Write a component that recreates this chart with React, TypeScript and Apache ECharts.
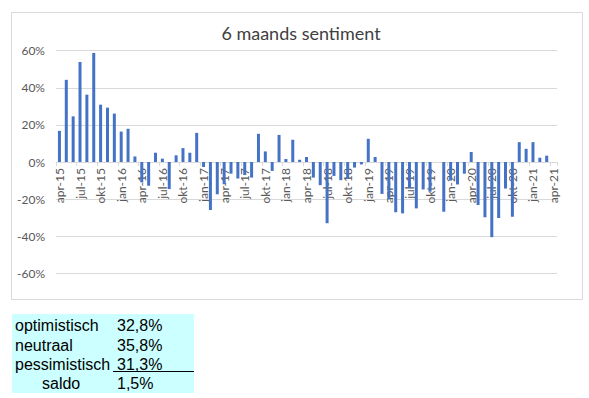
import React, { useEffect, useRef } from "react";
import * as echarts from "echarts";

const months = ["jan", "feb", "mrt", "apr", "mei", "jun", "jul", "aug", "sep", "okt", "nov", "dec"];
const startYear = 15;
const startMonth = 3; // apr
const monthCount = 73;
const categories: string[] = [];
for (let i = 0; i < monthCount; i++) {
  const m = (startMonth + i) % 12;
  const y = startYear + Math.floor((startMonth + i) / 12);
  categories.push(`${months[m]}-${y}`);
}

const sentiment: (number | null)[] = [
  16.8, 44.3, 24.6, 53.9, 36.3, 58.8, 30.9, 29.3, 26.1, 16.4, 17.9, 3.0,
  -11, -12.8, 5.0, 1.8, -14.6, 3.6, 7.5, 5.0, 15.7, -2.7, -25.9, -17.4,
  -12, -6.3, -8.9, -7, -8.4, 15.2, 5.7, -4.8, 14.6, 1.6, 12.0, 1.2,
  2.7, -8.4, -12.5, -33, -7.5, -9.8, -9, -3.0, -1.3, 12.5, 2.7, -17.2,
  -20, -27.1, -27.7, -14, -25, -14.8, -16, 0, -26.8, -10, -12.1, -6.3,
  5.4, -23.2, -29.8, -40.5, -30.2, -14.3, -29.5, 10.7, 7.1, 10.7, 2.3, 3.4,
  null,
];

const yTicks = { min: -60, max: 60, interval: 20 };

const tableLabels = ["optimistisch", "neutraal", "pessimistisch", "saldo"];
const tableValues = ["32,8%", "35,8%", "31,3%", "1,5%"];

export default function App() {
  const ref = useRef<HTMLDivElement>(null);
  useEffect(() => {
    document.body.style.margin = "0";
    const chart = echarts.init(ref.current!, null, { renderer: "svg" });
    const font = "Lato, 'Open Sans', sans-serif";
    const tableFont = "'Liberation Sans', Arial, sans-serif";
    const rowY = [325, 345, 364, 383];
    const gridTop = 50.7;
    const gridBottomY = 273.3;
    const plotH = gridBottomY - gridTop;
    const zeroOffset = -plotH * (0 - yTicks.min) / (yTicks.max - yTicks.min);
    const graphic: any[] = [
      {
        type: "rect",
        shape: { x: 11.5, y: 12.5, width: 571, height: 287 },
        style: { fill: "none", stroke: "#d9d9d9", lineWidth: 1 },
        z: -1,
      },
      {
        type: "rect",
        shape: { x: 12, y: 314, width: 182, height: 79 },
        style: { fill: "#ccffff" },
      },
      {
        type: "line",
        shape: { x1: 113, y1: 371.5, x2: 194, y2: 371.5 },
        style: { stroke: "#000", lineWidth: 1 },
      },
    ];
    tableLabels.forEach((t, i) => {
      graphic.push({
        type: "text",
        x: i === 3 ? 42 : 15,
        y: rowY[i],
        style: { text: t, font: `16px ${tableFont}`, fill: "#000", verticalAlign: "middle" },
      });
      graphic.push({
        type: "text",
        x: 117,
        y: rowY[i],
        style: { text: tableValues[i], font: `16px ${tableFont}`, fill: "#000", verticalAlign: "middle" },
      });
    });

    chart.setOption({
      animation: false,
      title: {
        text: "6 maands sentiment",
        left: 296,
        textAlign: "center",
        top: 19,
        textStyle: { fontFamily: font, fontSize: 18, fontWeight: "normal", color: "#404040" },
      },
      grid: { left: 56, right: 32, top: gridTop, bottom: 398 - gridBottomY, containLabel: false },
      xAxis: {
        type: "category",
        data: categories,
        boundaryGap: true,
        offset: zeroOffset,
        axisLine: { show: true, onZero: false, lineStyle: { color: "#d9d9d9", width: 1 } },
        axisTick: { show: true, interval: 2, length: 4, lineStyle: { color: "#d9d9d9" } },
        axisLabel: {
          interval: 2,
          rotate: 90,
          margin: 6,
          color: "#595959",
          fontFamily: font,
          fontSize: 12,
        },
        splitLine: { show: false },
      },
      yAxis: {
        type: "value",
        min: yTicks.min,
        max: yTicks.max,
        interval: yTicks.interval,
        axisLine: { show: false },
        axisTick: { show: false },
        axisLabel: {
          formatter: (v: number) => `${v}%`,
          color: "#595959",
          fontFamily: font,
          fontSize: 12,
          margin: 11,
        },
        splitLine: { lineStyle: { color: "#d9d9d9", width: 1 } },
      },
      series: [
        {
          type: "bar",
          data: sentiment,
          barWidth: 3,
          itemStyle: { color: "#4472c4" },
          z: 1,
        },
      ],
      graphic,
    });
    return () => chart.dispose();
  }, []);
  return <div ref={ref} style={{ width: 589, height: 398 }} />;
}
